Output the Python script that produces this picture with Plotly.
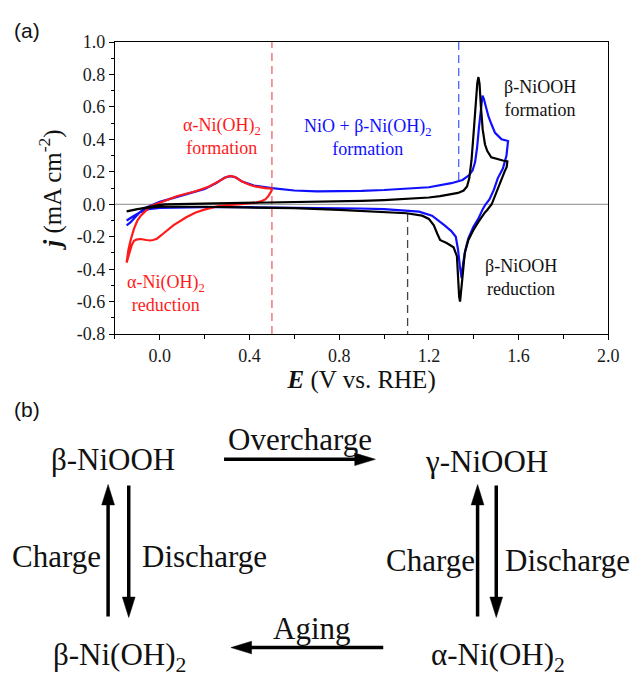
import plotly.graph_objects as go

# ---------------- data ----------------
E_black = [-0.148, -0.12, -0.10, -0.07, -0.04, 0.0, 0.02, 0.1, 0.2, 0.3, 0.4, 0.5, 0.6, 0.7,
           0.8, 0.9, 1.0, 1.1, 1.2, 1.25, 1.3, 1.33, 1.355, 1.37, 1.38, 1.39, 1.40, 1.41, 1.416,
           1.421, 1.426, 1.432, 1.44, 1.45, 1.46, 1.478, 1.50, 1.53, 1.55,
           1.547, 1.537, 1.52, 1.507, 1.49, 1.48, 1.46, 1.45, 1.42, 1.398, 1.376, 1.36, 1.349,
           1.343, 1.339, 1.335, 1.33, 1.325, 1.31, 1.295, 1.281, 1.265, 1.25, 1.237, 1.222,
           1.2, 1.17, 1.10, 1.0, 0.89, 0.8, 0.6, 0.4, 0.2, 0.0, -0.05, -0.10, -0.148]
j_black = [-0.044, -0.036, -0.03, -0.02, -0.01, -0.003, 0.0, 0.002, 0.003, 0.004, 0.006, 0.008,
           0.011, 0.014, 0.017, 0.021, 0.026, 0.032, 0.042, 0.05, 0.06, 0.07, 0.085, 0.11, 0.16,
           0.27, 0.45, 0.65, 0.75, 0.784, 0.74, 0.6, 0.46, 0.37, 0.33, 0.29, 0.28, 0.27, 0.265,
           0.23, 0.2, 0.14, 0.1, 0.04, 0.0, -0.035, -0.05, -0.11, -0.16, -0.22, -0.3, -0.46,
           -0.56, -0.6, -0.57, -0.46, -0.32, -0.265, -0.25, -0.24, -0.23, -0.22, -0.18, -0.13,
           -0.09, -0.07, -0.055, -0.047, -0.04, -0.035, -0.024, -0.018, -0.015, -0.015, -0.02,
           -0.03, -0.044]

E_blue = [-0.148, -0.13, -0.11, -0.09, -0.06, -0.03, 0.0, 0.05, 0.1, 0.15, 0.2, 0.25, 0.29,
          0.316, 0.34, 0.367, 0.42, 0.5, 0.6, 0.7, 0.8, 0.9, 1.0, 1.1, 1.2, 1.3, 1.35, 1.38,
          1.395, 1.406, 1.415, 1.423, 1.43, 1.435, 1.439, 1.445, 1.455, 1.466, 1.48, 1.495,
          1.51, 1.524, 1.553,
          1.55, 1.546, 1.53, 1.507, 1.49, 1.47, 1.453, 1.44, 1.42, 1.398, 1.376, 1.363, 1.353,
          1.346, 1.338, 1.33, 1.32, 1.30, 1.27, 1.243, 1.214, 1.156, 1.0, 0.89, 0.6, 0.4, 0.2,
          0.0, -0.05, -0.09, -0.12, -0.148]
j_blue = [-0.13, -0.11, -0.08, -0.05, -0.02, 0.0, 0.015, 0.035, 0.055, 0.075, 0.095, 0.13,
          0.165, 0.174, 0.165, 0.14, 0.115, 0.1, 0.085, 0.08, 0.08, 0.083, 0.088, 0.095, 0.105,
          0.13, 0.15, 0.18, 0.21, 0.26, 0.35, 0.47, 0.58, 0.64, 0.67, 0.65, 0.59, 0.54, 0.49,
          0.44, 0.42, 0.40, 0.39,
          0.34, 0.3, 0.22, 0.16, 0.09, 0.03, 0.0, -0.03, -0.09, -0.14, -0.21, -0.28, -0.36,
          -0.455, -0.38, -0.28, -0.2, -0.165, -0.13, -0.1, -0.07, -0.045, -0.03, -0.026,
          -0.02, -0.018, -0.017, -0.022, -0.03, -0.05, -0.075, -0.10]

E_red = [-0.148, -0.145, -0.14, -0.13, -0.115, -0.10, -0.085, -0.07, -0.042, 0.0, 0.04, 0.075,
         0.13, 0.16, 0.22, 0.25, 0.28, 0.30, 0.316, 0.335, 0.367, 0.40, 0.425, 0.47, 0.5,
         0.497, 0.49, 0.484, 0.47, 0.455, 0.43, 0.396, 0.35, 0.3, 0.265, 0.206, 0.16, 0.118,
         0.06, 0.016, -0.013, -0.03, -0.042, -0.06, -0.086, -0.105, -0.115, -0.125, -0.135,
         -0.142, -0.148]
j_red = [-0.36, -0.33, -0.28, -0.22, -0.15, -0.10, -0.07, -0.05, -0.012, 0.01, 0.03, 0.05,
         0.07, 0.08, 0.11, 0.13, 0.155, 0.17, 0.175, 0.168, 0.14, 0.12, 0.11, 0.1, 0.096,
         0.08, 0.065, 0.05, 0.03, 0.02, 0.01, 0.004, 0.0, -0.005, -0.01, -0.03, -0.05, -0.08,
         -0.13, -0.18, -0.212, -0.22, -0.223, -0.22, -0.214, -0.218, -0.225, -0.25, -0.29,
         -0.33, -0.36]

# marker lines: (E, j_from, j_to)
dash_E = [0.5, 1.333, 1.105]
dash_j_from = [-0.8, 0.15, -0.06]
dash_j_to = [1.0, 1.0, -0.8]
dash_colors = ["#f06262", "#4a62ff", "#444444"]

x_tick_vals = [0.0, 0.4, 0.8, 1.2, 1.6, 2.0]
x_tick_text = ["0.0", "0.4", "0.8", "1.2", "1.6", "2.0"]
y_tick_vals = [-0.8, -0.6, -0.4, -0.2, 0.0, 0.2, 0.4, 0.6, 0.8, 1.0]
y_tick_text = ["-0.8", "-0.6", "-0.4", "-0.2", "0.0", "0.2", "0.4", "0.6", "0.8", "1.0"]

W, H = 635, 676
SERIF = "Liberation Serif"
SANS = "Liberation Sans"


def px(x):
    return x / W


def py(y):
    return 1 - y / H


fig = go.Figure()

# zero line
fig.add_trace(go.Scatter(x=[-0.2, 2.0], y=[0, 0], mode="lines",
                         line=dict(color="#8a8a8a", width=1), hoverinfo="skip",
                         showlegend=False))
# dashed marker lines
for e, a, b, c in zip(dash_E, dash_j_from, dash_j_to, dash_colors):
    fig.add_trace(go.Scatter(x=[e, e], y=[a, b], mode="lines",
                             line=dict(color=c, width=1.3, dash="8px,5px"),
                             hoverinfo="skip", showlegend=False))

fig.add_trace(go.Scatter(x=E_blue, y=j_blue, mode="lines",
                         line=dict(color="#1010ff", width=2.2), showlegend=False))
fig.add_trace(go.Scatter(x=E_red, y=j_red, mode="lines",
                         line=dict(color="#ff1a1a", width=2.2), showlegend=False))
fig.add_trace(go.Scatter(x=E_black, y=j_black, mode="lines",
                         line=dict(color="#000000", width=2.2), showlegend=False))

axis_common = dict(showline=True, linecolor="black", linewidth=1.2, mirror=True,
                   ticks="outside", ticklen=5, tickcolor="black", tickwidth=1,
                   showgrid=False, zeroline=False,
                   tickfont=dict(family=SERIF, size=18, color="#1a1a1a"))

fig.update_layout(
    width=W, height=H,
    margin=dict(l=0, r=0, t=0, b=0),
    paper_bgcolor="white", plot_bgcolor="white",
    xaxis=dict(domain=[117 / W, 619 / W], range=[-0.2, 2.0],
               tickvals=x_tick_vals, ticktext=x_tick_text,
               minor=dict(dtick=0.2, tick0=0, ticks="outside", ticklen=4,
                          tickcolor="black"),
               title=dict(text="<b><i>E</i></b> (V vs. RHE)",
                          font=dict(family=SERIF, size=25, color="#111"),
                          standoff=5),
               **axis_common),
    yaxis=dict(domain=[1 - 334 / H, 1 - 33 / H], range=[-0.8, 1.0],
               tickvals=y_tick_vals, ticktext=y_tick_text,
               minor=dict(dtick=0.1, tick0=0, ticks="outside", ticklen=3,
                          tickcolor="black"),
               title=dict(text="<b><i>j</i></b> (mA cm<sup>-2</sup>)",
                          font=dict(family=SERIF, size=25, color="#111"),
                          standoff=8),
               **axis_common),
)

annots = []


def txt(x, y, s, size, color="#111", family=SERIF, xanchor="center"):
    annots.append(dict(x=px(x), y=py(y), xref="paper", yref="paper", text=s,
                       showarrow=False, xanchor=xanchor, yanchor="middle",
                       font=dict(family=family, size=size, color=color)))


# panel labels
txt(27, 21, "(a)", 21, "#111", SANS)
txt(27, 412, "(b)", 21, "#111", SANS)

# CV annotations
txt(226, 130, "α-Ni(OH)<sub>2</sub><br>formation", 18, "#ff1a1a")
txt(374, 131, "NiO + β-Ni(OH)<sub>2</sub><br>formation", 18, "#1010ff")
txt(550, 91, "β-NiOOH<br>formation", 18, "#111")
txt(169, 292, "α-Ni(OH)<sub>2</sub><br>reduction", 18, "#ff1a1a")
txt(530, 276, "β-NiOOH<br>reduction", 18, "#111")

# scheme (b)
BIG = 31
txt(115, 463, "β-NiOOH", BIG)
txt(495, 465, "γ-NiOOH", BIG)
txt(122, 667, "β-Ni(OH)<sub>2</sub>", BIG)
txt(507, 667, "α-Ni(OH)<sub>2</sub>", BIG)
txt(305, 443, "Overcharge", BIG)
txt(318, 637, "Aging", BIG)
txt(57, 563, "Charge", BIG)
txt(208, 563, "Discharge", BIG)
txt(438, 567, "Charge", BIG)
txt(578, 567, "Discharge", BIG)

fig.update_layout(annotations=annots)

# arrows of the scheme as shapes (shaft + filled head), page pixel coords
HEAD_L, HEAD_W, SHAFT = 21, 13, 3.5
shapes = []


def arrow(x0, y0, x1, y1):
    dx, dy = x1 - x0, y1 - y0
    n = (dx * dx + dy * dy) ** 0.5
    ux, uy = dx / n, dy / n
    bx, by = x1 - ux * HEAD_L, y1 - uy * HEAD_L
    shapes.append(dict(type="line", xref="paper", yref="paper",
                       x0=px(x0), y0=py(y0), x1=px(bx + ux * 2), y1=py(by + uy * 2),
                       line=dict(color="black", width=SHAFT)))
    lx, ly = bx - uy * HEAD_W / 2, by + ux * HEAD_W / 2
    rx, ry = bx + uy * HEAD_W / 2, by - ux * HEAD_W / 2
    path = "M {:.5f} {:.5f} L {:.5f} {:.5f} L {:.5f} {:.5f} Z".format(
        px(x1), py(y1), px(lx), py(ly), px(rx), py(ry))
    shapes.append(dict(type="path", xref="paper", yref="paper", path=path,
                       fillcolor="black", line=dict(color="black", width=0.5)))


arrow(228, 463, 382, 463)
arrow(390, 657, 235, 657)
arrow(110, 625, 110, 489)
arrow(131, 490, 131, 626)
arrow(486, 625, 486, 489)
arrow(505, 490, 505, 626)

fig.update_layout(shapes=shapes)

fig.write_html("out.html")
